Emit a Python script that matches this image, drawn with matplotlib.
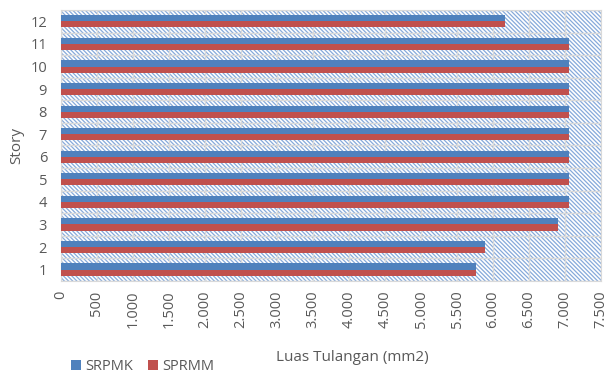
import numpy as np
import matplotlib.pyplot as plt
from matplotlib.patches import Rectangle
from matplotlib.ticker import FuncFormatter

plt.rcParams['font.family'] = ['Open Sans', 'DejaVu Sans']
plt.rcParams['hatch.linewidth'] = 0.9
plt.rcParams['hatch.color'] = '#86a9da'

stories = np.arange(1, 13)
srpmk = [5764, 5889, 6903, 7055, 7055, 7055, 7055, 7055, 7055, 7055, 7055, 6167]
sprmm = [5764, 5889, 6903, 7055, 7055, 7055, 7055, 7055, 7055, 7055, 7055, 6167]

blue = '#4f81bd'
red = '#c0504d'
grey_text = '#595959'

fig = plt.figure(figsize=(6.09, 3.74), dpi=100)
ax = fig.add_axes([0.100, 0.249, 0.887, 0.724])

# hatched plot area background
bg = Rectangle((0, 0), 1, 1, transform=ax.transAxes, facecolor='white',
               edgecolor='#86a9da', hatch='\\' * 8, linewidth=0, zorder=0)
ax.add_patch(bg)

h = 0.27
ax.barh(stories + 0.135, srpmk, height=h, color=blue, label='SRPMK', zorder=3)
ax.barh(stories - 0.135, sprmm, height=h, color=red, label='SPRMM', zorder=3)

ax.set_xlim(0, 7500)
ax.set_ylim(0.5, 12.5)
ax.set_xticks(np.arange(0, 7501, 500))
ax.xaxis.set_major_formatter(FuncFormatter(lambda v, p: f'{int(v):,}'.replace(',', '.')))
ax.set_yticks(stories)
ax.set_yticks(np.arange(0.5, 12.6, 1), minor=True)
ax.tick_params(axis='x', rotation=90, length=0, labelsize=10.5, colors=grey_text, pad=7)
ax.tick_params(axis='y', length=0, labelsize=10.5, colors=grey_text, pad=10)
ax.tick_params(axis='y', which='minor', length=0)

ax.grid(axis='x', color='#d9d9d9', linewidth=1, zorder=1)
ax.grid(axis='y', which='minor', color='#d9d9d9', linewidth=1, zorder=1)
ax.set_axisbelow(True)
for s in ax.spines.values():
    s.set_color('#d9d9d9')

ax.set_xlabel('Luas Tulangan (mm2)', fontsize=11, color=grey_text)
ax.xaxis.set_label_coords(0.54, -0.255)
ax.set_ylabel('Story', fontsize=11, color=grey_text, labelpad=4)

fig.legend(loc='lower left', bbox_to_anchor=(0.095, -0.035), ncol=2, frameon=False,
           fontsize=10.5, handlelength=0.7, handleheight=0.7, columnspacing=1.0,
           handletextpad=0.3, labelcolor=grey_text)

fig.savefig('out.png', dpi=100)
